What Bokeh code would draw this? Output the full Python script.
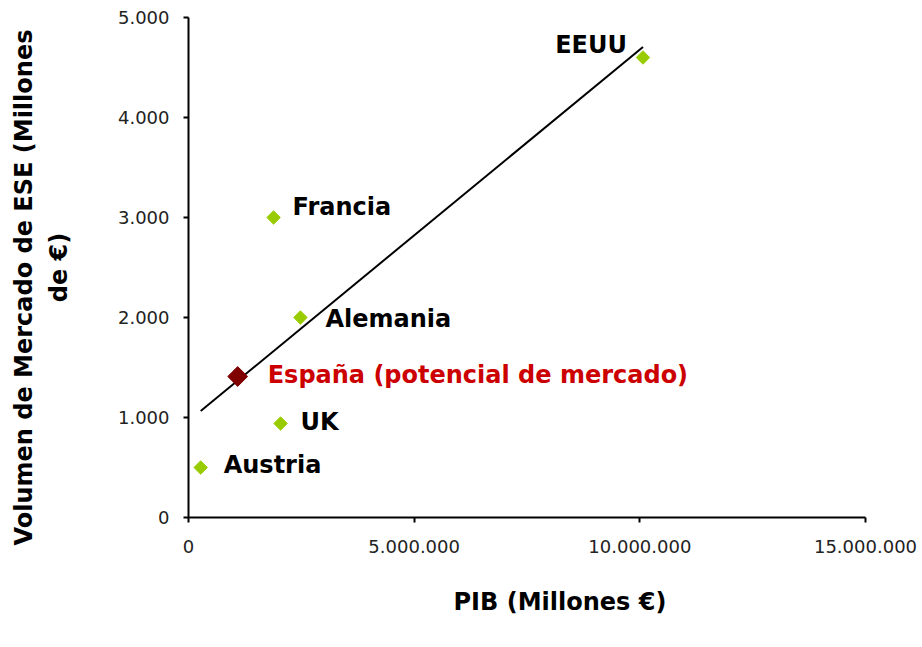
import numpy as np
from bokeh.plotting import figure
from bokeh.models import Range1d, FixedTicker, Title, ColumnDataSource
from bokeh.core.properties import value
from bokeh.embed import file_html
from bokeh.resources import INLINE

# ---- data ----
countries = ["EEUU", "Francia", "Alemania", "UK", "Austria"]
pib = [10070000, 1885000, 2480000, 2040000, 270000]          # PIB (Millones €)
mercado = [4600, 3000, 2000, 940, 500]                         # Volumen mercado ESE
spain_name = ["España (potencial de mercado)"]
spain_pib = [1090000]
spain_mercado = [1410]

x_ticks = [0, 5000000, 10000000, 15000000]
x_tick_labels = ["0", "5.000.000", "10.000.000", "15.000.000"]
y_ticks = [0, 1000, 2000, 3000, 4000, 5000]
y_tick_labels = ["0", "1.000", "2.000", "3.000", "4.000", "5.000"]

x_title = "PIB (Millones €)"
y_title_lines = ["Volumen de Mercado de ESE (Millones", "de €)"]

# label layout (pixel offsets / alignment)
lbl_dx = [-16, 19, 25, 20, 23]
lbl_dy = [-13, -11, 1, -2, -3]
lbl_align = ["right", "left", "left", "left", "left"]

W, H = 922, 647
p = figure(width=W, height=H, output_backend="svg", toolbar_location=None,
           x_range=Range1d(0, 15000000), y_range=Range1d(0, 5000),
           min_border_left=188, min_border_right=W - 865,
           min_border_top=17, min_border_bottom=H - 517)
p.outline_line_color = None
p.xgrid.grid_line_color = None
p.ygrid.grid_line_color = None
p.background_fill_color = "white"
p.border_fill_color = "white"

for ax, ticks, labels in ((p.xaxis[0], x_ticks, x_tick_labels), (p.yaxis[0], y_ticks, y_tick_labels)):
    ax.ticker = FixedTicker(ticks=ticks)
    ax.major_label_overrides = {t: l for t, l in zip(ticks, labels)}
    ax.minor_tick_line_color = None
    ax.major_tick_in = 0
    ax.major_tick_out = 5
    ax.axis_line_color = "black"
    ax.axis_line_width = 2
    ax.major_tick_line_color = "black"
    ax.major_tick_line_width = 2
    ax.major_label_text_font = "DejaVu Sans"
    ax.major_label_text_font_size = "18px"
    ax.major_label_text_color = "#222222"
p.xaxis[0].major_label_standoff = 17
p.yaxis[0].major_label_standoff = 14

# second line of the y title carried by the y axis itself
yax = p.yaxis[0]
yax.axis_label = y_title_lines[1]
yax.axis_label_standoff = 42
yax.axis_label_text_font = "DejaVu Sans"
yax.axis_label_text_font_style = "bold"
yax.axis_label_text_font_size = "24px"
yax.axis_label_text_color = "black"

# trend line (least squares over the reference countries)
coef = np.polyfit(np.array(pib, float), np.array(mercado, float), 1)
tx = np.array([min(pib), max(pib)], float)
p.line(tx, np.polyval(coef, tx), line_color="black", line_width=2)

src = ColumnDataSource(dict(x=pib, y=mercado, name=countries, dx=lbl_dx, dy=lbl_dy, al=lbl_align))
p.scatter("x", "y", source=src, marker="square", size=9.5, angle=np.pi / 4,
          fill_color="#99CC00", line_color="#99CC00")
p.scatter(spain_pib, spain_mercado, marker="square", size=14, angle=np.pi / 4,
          fill_color="#800000", line_color="#800000")

p.text("x", "y", text="name", source=src, x_offset="dx", y_offset="dy", text_align="al",
       text_baseline="middle", text_font=value("DejaVu Sans"), text_font_style="bold",
       text_font_size="24px", text_color="black")
p.text(spain_pib, spain_mercado, text=spain_name, x_offset=30, y_offset=-2,
       text_baseline="middle", text_font=value("DejaVu Sans"), text_font_style="bold",
       text_font_size="24px", text_color="#CC0000")

# axis titles
tkw = dict(text_font="DejaVu Sans", text_font_style="bold", text_font_size="24px",
           text_color="black")
p.add_layout(Title(text=x_title, align="left", offset=265, standoff=60, **tkw), "below")
p.add_layout(Title(text=y_title_lines[0], align="left", offset=-28, standoff=8, **tkw), "left")

open("out.html", "w").write(file_html(p, INLINE))
